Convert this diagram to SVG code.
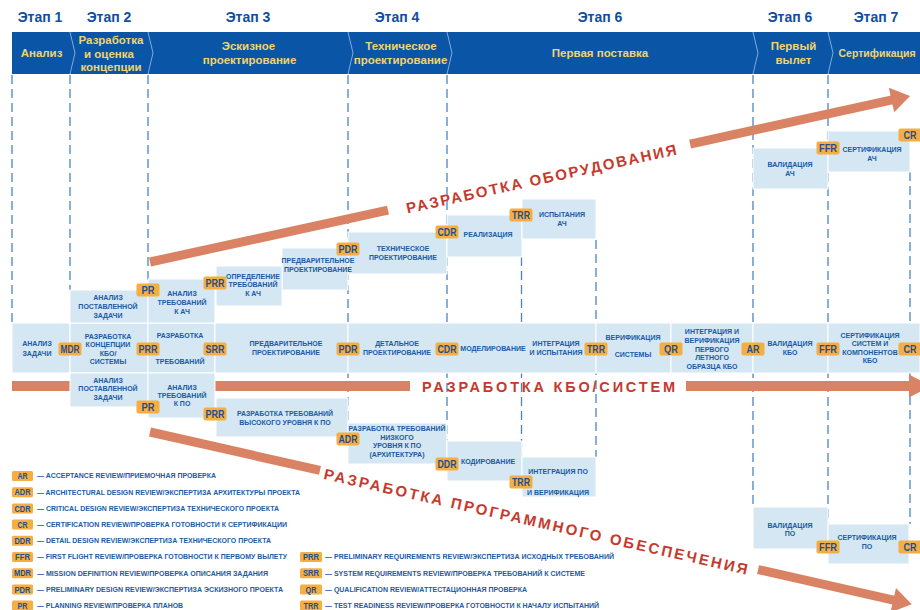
<svg xmlns="http://www.w3.org/2000/svg" width="920" height="610" viewBox="0 0 920 610">
<style>
.stage{font-family:"Liberation Sans",Arial,sans-serif;font-weight:bold;font-size:14px;fill:#124e9c;text-anchor:middle}
.band{font-family:"Liberation Sans",Arial,sans-serif;font-weight:bold;font-size:11.5px;fill:#f2d46e;text-anchor:middle}
.chev{fill:none;stroke:#7fa9dd;stroke-width:1}
.box{fill:#d4e7f3;stroke:#ffffff;stroke-width:1}
.lbl{font-family:"Liberation Sans",Arial,sans-serif;font-weight:bold;font-size:7px;fill:#1b5aa5;text-anchor:middle}
.bdg rect{fill:#f6ae41}
.bdg text{font-family:"Liberation Sans",Arial,sans-serif;font-weight:bold;font-size:10.5px;fill:#1d4f92;text-anchor:middle}
.guide{stroke:#4a85c7;stroke-width:1.3;stroke-dasharray:9 5;fill:none}
.flow{fill:#da8364}
.flowtxt{font-family:"Liberation Sans",Arial,sans-serif;font-weight:bold;font-size:15px;fill:#c63a2d;text-anchor:middle}
.leg{font-family:"Liberation Sans",Arial,sans-serif;font-weight:bold;font-size:6.8px;fill:#1d5aa3}
.lb rect{fill:#f6ae41}
.lb text{font-family:"Liberation Sans",Arial,sans-serif;font-weight:bold;font-size:8.5px;fill:#1d4f92;text-anchor:middle}
</style>

<g id="header">
  <text class="stage" x="40" y="22">Этап 1</text>
  <text class="stage" x="109" y="22">Этап 2</text>
  <text class="stage" x="248" y="22">Этап 3</text>
  <text class="stage" x="397" y="22">Этап 4</text>
  <text class="stage" x="600" y="22">Этап 6</text>
  <text class="stage" x="790" y="22">Этап 6</text>
  <text class="stage" x="876" y="22">Этап 7</text>
  <rect x="12" y="32" width="908" height="42" fill="#0a55a5"/>
  <polyline class="chev" points="70,32 75,53 70,74"/>
  <polyline class="chev" points="148,32 153,53 148,74"/>
  <polyline class="chev" points="348,32 353,53 348,74"/>
  <polyline class="chev" points="447,32 452,53 447,74"/>
  <polyline class="chev" points="753,32 758,53 753,74"/>
  <polyline class="chev" points="828,32 833,53 828,74"/>
  <text class="band" x="41.5" y="57">Анализ</text>
  <text class="band" x="111" y="44">Разработка</text>
  <text class="band" x="109" y="57.5">и оценка</text>
  <text class="band" x="111" y="70.5">концепции</text>
  <text class="band" x="248.5" y="50">Эскизное</text>
  <text class="band" x="249.5" y="64">проектирование</text>
  <text class="band" x="401" y="50">Техническое</text>
  <text class="band" x="400.5" y="64">проектирование</text>
  <text class="band" x="600" y="57">Первая поставка</text>
  <text class="band" x="793.5" y="50">Первый</text>
  <text class="band" x="793.5" y="64">вылет</text>
  <text class="band" x="877" y="57" style="font-size:10.5px">Сертификация</text>
</g>

<g id="connectors">
  <line class="guide" x1="12" y1="75" x2="12" y2="322"/>
  <line class="guide" x1="70" y1="75" x2="70" y2="290"/>
  <line class="guide" x1="148" y1="75" x2="148" y2="282"/>
  <line class="guide" x1="348" y1="75" x2="348" y2="423"/>
  <line class="guide" x1="447" y1="75" x2="447" y2="441"/>
  <line class="guide" x1="521.5" y1="257" x2="521.5" y2="457"/>
  <line class="guide" x1="596" y1="240" x2="596" y2="457"/>
  <line class="guide" x1="753" y1="75" x2="753" y2="507"/>
  <line class="guide" x1="828" y1="75" x2="828" y2="524"/>
  <line class="guide" x1="910" y1="172" x2="910" y2="524"/>

  <g id="flow-hw" transform="translate(150,262) rotate(-12.32)">
    <rect class="flow" x="0" y="-4.5" width="243.6" height="9"/>
    <rect class="flow" x="552.8" y="-4.5" width="208" height="9"/>
    <polygon class="flow" points="759,-12.5 778,0 759,12.5"/>
    <text class="flowtxt" x="400" y="7.5" textLength="276" lengthAdjust="spacing">РАЗРАБОТКА ОБОРУДОВАНИЯ</text>
  </g>
  <g id="flow-kbo">
    <rect class="flow" x="12" y="381" width="398" height="10"/>
    <rect class="flow" x="686" y="381" width="224" height="10"/>
    <polygon class="flow" points="909,374.5 931,386 909,397.5"/>
    <text class="flowtxt" x="548.5" y="392" style="font-size:14.5px" textLength="253" lengthAdjust="spacing">РАЗРАБОТКА КБО/СИСТЕМ</text>
  </g>
  <g id="flow-sw" transform="translate(150,432) rotate(12.75)">
    <rect class="flow" x="0" y="-4.5" width="174.3" height="9"/>
    <rect class="flow" x="623.4" y="-4.5" width="140" height="9"/>
    <polygon class="flow" points="762,-12.5 781,0 762,12.5"/>
    <text class="flowtxt" x="396" y="7.5" textLength="434" lengthAdjust="spacing">РАЗРАБОТКА ПРОГРАММНОГО ОБЕСПЕЧЕНИЯ</text>
  </g>
</g>

<g id="nodes-main">
  <g id="n-analiz-zadachi"><rect class="box" x="12" y="323" width="58" height="50"/>
    <text class="lbl" x="37" y="345.5">АНАЛИЗ</text><text class="lbl" x="37" y="355.5">ЗАДАЧИ</text></g>
  <g id="n-koncepcii"><rect class="box" x="70" y="323" width="78" height="50"/>
    <text class="lbl" x="108" y="338.5">РАЗРАБОТКА</text><text class="lbl" x="108" y="347">КОНЦЕПЦИИ</text><text class="lbl" x="108" y="355.5">КБО/</text><text class="lbl" x="108" y="364">СИСТЕМЫ</text></g>
  <g id="n-razr-treb"><rect class="box" x="148" y="323" width="67" height="50"/>
    <text class="lbl" x="180" y="337.5">РАЗРАБОТКА</text><text class="lbl" x="180" y="363.5">ТРЕБОВАНИЙ</text></g>
  <g id="n-predv"><rect class="box" x="215" y="323" width="133" height="50"/>
    <text class="lbl" x="286" y="345.5">ПРЕДВАРИТЕЛЬНОЕ</text><text class="lbl" x="286" y="354.5">ПРОЕКТИРОВАНИЕ</text></g>
  <g id="n-detal"><rect class="box" x="348" y="323" width="248" height="50"/>
    <text class="lbl" x="397" y="345.5">ДЕТАЛЬНОЕ</text><text class="lbl" x="397" y="354.5">ПРОЕКТИРОВАНИЕ</text>
    <text class="lbl" x="493" y="350.5">МОДЕЛИРОВАНИЕ</text>
    <text class="lbl" x="556" y="345.5">ИНТЕГРАЦИЯ</text><text class="lbl" x="556" y="354.5">И ИСПЫТАНИЯ</text></g>
  <g id="n-verif"><rect class="box" x="596" y="323" width="75" height="50"/>
    <text class="lbl" x="633" y="339.5">ВЕРИФИКАЦИЯ</text><text class="lbl" x="633" y="356.5">СИСТЕМЫ</text></g>
  <g id="n-integr-obr"><rect class="box" x="671" y="323" width="82" height="50"/>
    <text class="lbl" x="712" y="333.5">ИНТЕГРАЦИЯ И</text><text class="lbl" x="712" y="342.5">ВЕРИФИКАЦИЯ</text><text class="lbl" x="712" y="351.5">ПЕРВОГО</text><text class="lbl" x="712" y="360">ЛЕТНОГО</text><text class="lbl" x="712" y="368.5">ОБРАЗЦА КБО</text></g>
  <g id="n-valid-kbo"><rect class="box" x="753" y="323" width="75" height="50"/>
    <text class="lbl" x="790" y="345.5">ВАЛИДАЦИЯ</text><text class="lbl" x="790" y="354.5">КБО</text></g>
  <g id="n-sert-kbo"><rect class="box" x="828" y="323" width="92" height="50"/>
    <text class="lbl" x="870" y="337.5">СЕРТИФИКАЦИЯ</text><text class="lbl" x="870" y="346">СИСТЕМ И</text><text class="lbl" x="870" y="354.5">КОМПОНЕНТОВ</text><text class="lbl" x="870" y="363">КБО</text></g>
</g>

<g id="nodes-hw">
  <g id="n-hw-analiz"><rect class="box" x="70" y="290" width="78" height="33"/>
    <text class="lbl" x="108" y="299.5">АНАЛИЗ</text><text class="lbl" x="108" y="308.5">ПОСТАВЛЕННОЙ</text><text class="lbl" x="108" y="317.5">ЗАДАЧИ</text></g>
  <g id="n-hw-analiz-treb"><rect class="box" x="148" y="279" width="67" height="44"/>
    <text class="lbl" x="182" y="295.5">АНАЛИЗ</text><text class="lbl" x="182" y="304.5">ТРЕБОВАНИЙ</text><text class="lbl" x="182" y="313.5">К АЧ</text></g>
  <g id="n-hw-tech"><rect class="box" x="348" y="232" width="99" height="42"/>
    <text class="lbl" x="403" y="250.5">ТЕХНИЧЕСКОЕ</text><text class="lbl" x="403" y="259.5">ПРОЕКТИРОВАНИЕ</text></g>
  <g id="n-hw-predv"><rect class="box" x="282" y="248" width="66" height="42"/>
    <text class="lbl" x="318" y="262.5">ПРЕДВАРИТЕЛЬНОЕ</text><text class="lbl" x="318" y="271.5">ПРОЕКТИРОВАНИЕ</text></g>
  <g id="n-hw-opred"><rect class="box" x="216" y="266" width="66" height="40"/>
    <text class="lbl" x="253" y="278.5">ОПРЕДЕЛЕНИЕ</text><text class="lbl" x="253" y="287">ТРЕБОВАНИЙ</text><text class="lbl" x="253" y="295.5">К АЧ</text></g>
  <g id="n-hw-real"><rect class="box" x="447" y="215" width="75" height="42"/>
    <text class="lbl" x="488" y="236.5">РЕАЛИЗАЦИЯ</text></g>
  <g id="n-hw-isp"><rect class="box" x="522" y="199" width="74" height="40"/>
    <text class="lbl" x="562" y="216.5">ИСПЫТАНИЯ</text><text class="lbl" x="562" y="225.5">АЧ</text></g>
  <g id="n-hw-valid"><rect class="box" x="753" y="148" width="75" height="41"/>
    <text class="lbl" x="790" y="166.5">ВАЛИДАЦИЯ</text><text class="lbl" x="790" y="175.5">АЧ</text></g>
  <g id="n-hw-sert"><rect class="box" x="828" y="131" width="82" height="41"/>
    <text class="lbl" x="872" y="151.5">СЕРТИФИКАЦИЯ</text><text class="lbl" x="872" y="160.5">АЧ</text></g>
</g>

<g id="nodes-sw">
  <g id="n-sw-analiz"><rect class="box" x="70" y="373" width="78" height="34"/>
    <text class="lbl" x="108" y="382.5">АНАЛИЗ</text><text class="lbl" x="108" y="391">ПОСТАВЛЕННОЙ</text><text class="lbl" x="108" y="399.5">ЗАДАЧИ</text></g>
  <g id="n-sw-analiz-treb"><rect class="box" x="148" y="373" width="67" height="45"/>
    <text class="lbl" x="182" y="389.5">АНАЛИЗ</text><text class="lbl" x="182" y="397.5">ТРЕБОВАНИЙ</text><text class="lbl" x="182" y="405.5">К ПО</text></g>
  <g id="n-sw-high"><rect class="box" x="216" y="398" width="132" height="39"/>
    <text class="lbl" x="285" y="415.5" textLength="96" lengthAdjust="spacingAndGlyphs">РАЗРАБОТКА ТРЕБОВАНИЙ</text><text class="lbl" x="285" y="424.5">ВЫСОКОГО УРОВНЯ К ПО</text></g>
  <g id="n-sw-low"><rect class="box" x="348" y="423" width="99" height="41"/>
    <text class="lbl" x="397" y="430.5" textLength="97" lengthAdjust="spacingAndGlyphs">РАЗРАБОТКА ТРЕБОВАНИЙ</text><text class="lbl" x="397" y="439.5">НИЗКОГО</text><text class="lbl" x="397" y="448">УРОВНЯ К ПО</text><text class="lbl" x="397" y="456.5">(АРХИТЕКТУРА)</text></g>
  <g id="n-sw-kod"><rect class="box" x="447" y="441" width="75" height="40"/>
    <text class="lbl" x="488" y="463.5">КОДИРОВАНИЕ</text></g>
  <g id="n-sw-integr"><rect class="box" x="522" y="457" width="74" height="40"/>
    <text class="lbl" x="558" y="473.5">ИНТЕГРАЦИЯ ПО</text><text class="lbl" x="558" y="494.5">И ВЕРИФИКАЦИЯ</text></g>
  <g id="n-sw-valid"><rect class="box" x="753" y="507" width="75" height="42"/>
    <text class="lbl" x="790" y="527.5">ВАЛИДАЦИЯ</text><text class="lbl" x="790" y="536">ПО</text></g>
  <g id="n-sw-sert"><rect class="box" x="828" y="524" width="81" height="40"/>
    <text class="lbl" x="867" y="539.5">СЕРТИФИКАЦИЯ</text><text class="lbl" x="867" y="548.5">ПО</text></g>
</g>

<g id="badges">
  <g id="b-mdr" class="bdg"><rect x="58.5" y="342.5" width="23" height="13" rx="2"/><text x="70" y="352.8" textLength="19" lengthAdjust="spacingAndGlyphs">MDR</text></g>
  <g id="b-prr-m" class="bdg"><rect x="136.5" y="342.5" width="23" height="13" rx="2"/><text x="148" y="352.8" textLength="19" lengthAdjust="spacingAndGlyphs">PRR</text></g>
  <g id="b-srr" class="bdg"><rect x="203.5" y="342.5" width="23" height="13" rx="2"/><text x="215" y="352.8" textLength="19" lengthAdjust="spacingAndGlyphs">SRR</text></g>
  <g id="b-pdr-m" class="bdg"><rect x="336.5" y="342.5" width="23" height="13" rx="2"/><text x="348" y="352.8" textLength="19" lengthAdjust="spacingAndGlyphs">PDR</text></g>
  <g id="b-cdr-m" class="bdg"><rect x="435.5" y="342.5" width="23" height="13" rx="2"/><text x="447" y="352.8" textLength="19" lengthAdjust="spacingAndGlyphs">CDR</text></g>
  <g id="b-trr-m" class="bdg"><rect x="584.5" y="342.5" width="23" height="13" rx="2"/><text x="596" y="352.8" textLength="18" lengthAdjust="spacingAndGlyphs">TRR</text></g>
  <g id="b-qr" class="bdg"><rect x="659.5" y="342.5" width="23" height="13" rx="2"/><text x="671" y="352.8" textLength="14" lengthAdjust="spacingAndGlyphs">QR</text></g>
  <g id="b-ar" class="bdg"><rect x="741.5" y="342.5" width="23" height="13" rx="2"/><text x="753" y="352.8" textLength="13" lengthAdjust="spacingAndGlyphs">AR</text></g>
  <g id="b-ffr-m" class="bdg"><rect x="816.5" y="342.5" width="23" height="13" rx="2"/><text x="828" y="352.8" textLength="18" lengthAdjust="spacingAndGlyphs">FFR</text></g>
  <g id="b-cr-m" class="bdg"><rect x="898.5" y="342.5" width="23" height="13" rx="2"/><text x="910" y="352.8" textLength="13" lengthAdjust="spacingAndGlyphs">CR</text></g>

  <g id="b-pr-u" class="bdg"><rect x="136.5" y="283.5" width="23" height="13" rx="2"/><text x="148" y="293.8" textLength="13" lengthAdjust="spacingAndGlyphs">PR</text></g>
  <g id="b-prr-u" class="bdg"><rect x="203.5" y="276.5" width="23" height="13" rx="2"/><text x="215" y="286.8" textLength="19" lengthAdjust="spacingAndGlyphs">PRR</text></g>
  <g id="b-pdr-u" class="bdg"><rect x="336.5" y="242.5" width="23" height="13" rx="2"/><text x="348" y="252.8" textLength="19" lengthAdjust="spacingAndGlyphs">PDR</text></g>
  <g id="b-cdr-u" class="bdg"><rect x="435.5" y="225.5" width="23" height="13" rx="2"/><text x="447" y="235.8" textLength="19" lengthAdjust="spacingAndGlyphs">CDR</text></g>
  <g id="b-trr-u" class="bdg"><rect x="509.5" y="208.5" width="23" height="13" rx="2"/><text x="521" y="218.8" textLength="18" lengthAdjust="spacingAndGlyphs">TRR</text></g>
  <g id="b-ffr-u" class="bdg"><rect x="816.5" y="141.5" width="23" height="13" rx="2"/><text x="828" y="151.8" textLength="18" lengthAdjust="spacingAndGlyphs">FFR</text></g>
  <g id="b-cr-u" class="bdg"><rect x="898.5" y="128.5" width="23" height="13" rx="2"/><text x="910" y="138.8" textLength="13" lengthAdjust="spacingAndGlyphs">CR</text></g>

  <g id="b-pr-l" class="bdg"><rect x="136.5" y="400.5" width="23" height="13" rx="2"/><text x="148" y="410.8" textLength="13" lengthAdjust="spacingAndGlyphs">PR</text></g>
  <g id="b-prr-l" class="bdg"><rect x="203.5" y="407.5" width="23" height="13" rx="2"/><text x="215" y="417.8" textLength="19" lengthAdjust="spacingAndGlyphs">PRR</text></g>
  <g id="b-adr" class="bdg"><rect x="336.5" y="432.5" width="23" height="13" rx="2"/><text x="348" y="442.8" textLength="19" lengthAdjust="spacingAndGlyphs">ADR</text></g>
  <g id="b-ddr" class="bdg"><rect x="435.5" y="457.5" width="23" height="13" rx="2"/><text x="447" y="467.8" textLength="19" lengthAdjust="spacingAndGlyphs">DDR</text></g>
  <g id="b-trr-l" class="bdg"><rect x="509.5" y="475.5" width="23" height="13" rx="2"/><text x="521" y="485.8" textLength="18" lengthAdjust="spacingAndGlyphs">TRR</text></g>
  <g id="b-ffr-l" class="bdg"><rect x="816.5" y="540.5" width="23" height="13" rx="2"/><text x="828" y="550.8" textLength="18" lengthAdjust="spacingAndGlyphs">FFR</text></g>
  <g id="b-cr-l" class="bdg"><rect x="898.5" y="540.5" width="23" height="13" rx="2"/><text x="910" y="550.8" textLength="13" lengthAdjust="spacingAndGlyphs">CR</text></g>
</g>

<g id="legend">
  <g class="lb"><rect x="12" y="471" width="21" height="10" rx="1.5"/><text x="22.5" y="479.2" textLength="10" lengthAdjust="spacingAndGlyphs">AR</text></g>
  <text class="leg" x="37" y="478.4" textLength="179" lengthAdjust="spacingAndGlyphs">— ACCEPTANCE REVIEW/ПРИЕМОЧНАЯ ПРОВЕРКА</text>
  <g class="lb"><rect x="12" y="487.2" width="21" height="10" rx="1.5"/><text x="22.5" y="495.4" textLength="16" lengthAdjust="spacingAndGlyphs">ADR</text></g>
  <text class="leg" x="37" y="494.6" textLength="263" lengthAdjust="spacingAndGlyphs">— ARCHITECTURAL DESIGN REVIEW/ЭКСПЕРТИЗА АРХИТЕКТУРЫ ПРОЕКТА</text>
  <g class="lb"><rect x="12" y="503.4" width="21" height="10" rx="1.5"/><text x="22.5" y="511.6" textLength="16" lengthAdjust="spacingAndGlyphs">CDR</text></g>
  <text class="leg" x="37" y="510.8" textLength="242" lengthAdjust="spacingAndGlyphs">— CRITICAL DESIGN REVIEW/ЭКСПЕРТИЗА ТЕХНИЧЕСКОГО ПРОЕКТА</text>
  <g class="lb"><rect x="12" y="519.6" width="21" height="10" rx="1.5"/><text x="22.5" y="527.8" textLength="10" lengthAdjust="spacingAndGlyphs">CR</text></g>
  <text class="leg" x="37" y="527" textLength="250" lengthAdjust="spacingAndGlyphs">— CERTIFICATION REVIEW/ПРОВЕРКА ГОТОВНОСТИ К СЕРТИФИКАЦИИ</text>
  <g class="lb"><rect x="12" y="535.8" width="21" height="10" rx="1.5"/><text x="22.5" y="544" textLength="16" lengthAdjust="spacingAndGlyphs">DDR</text></g>
  <text class="leg" x="37" y="543.2" textLength="234" lengthAdjust="spacingAndGlyphs">— DETAIL DESIGN REVIEW/ЭКСПЕРТИЗА ТЕХНИЧЕСКОГО ПРОЕКТА</text>
  <g class="lb"><rect x="12" y="552" width="21" height="10" rx="1.5"/><text x="22.5" y="560.2" textLength="15" lengthAdjust="spacingAndGlyphs">FFR</text></g>
  <text class="leg" x="37" y="559.4" textLength="250" lengthAdjust="spacingAndGlyphs">— FIRST FLIGHT REVIEW/ПРОВЕРКА ГОТОВНОСТИ К ПЕРВОМУ ВЫЛЕТУ</text>
  <g class="lb"><rect x="12" y="568.2" width="21" height="10" rx="1.5"/><text x="22.5" y="576.4" textLength="17" lengthAdjust="spacingAndGlyphs">MDR</text></g>
  <text class="leg" x="37" y="575.6" textLength="231" lengthAdjust="spacingAndGlyphs">— MISSION DEFINITION REVIEW/ПРОВЕРКА ОПИСАНИЯ ЗАДАНИЯ</text>
  <g class="lb"><rect x="12" y="584.4" width="21" height="10" rx="1.5"/><text x="22.5" y="592.6" textLength="16" lengthAdjust="spacingAndGlyphs">PDR</text></g>
  <text class="leg" x="37" y="591.8" textLength="246" lengthAdjust="spacingAndGlyphs">— PRELIMINARY DESIGN REVIEW/ЭКСПЕРТИЗА ЭСКИЗНОГО ПРОЕКТА</text>
  <g class="lb"><rect x="12" y="600.6" width="21" height="10" rx="1.5"/><text x="22.5" y="608.8" textLength="10" lengthAdjust="spacingAndGlyphs">PR</text></g>
  <text class="leg" x="37" y="608" textLength="146" lengthAdjust="spacingAndGlyphs">— PLANNING REVIEW/ПРОВЕРКА ПЛАНОВ</text>

  <g class="lb"><rect x="300" y="552" width="22" height="10" rx="1.5"/><text x="311" y="560.2" textLength="16" lengthAdjust="spacingAndGlyphs">PRR</text></g>
  <text class="leg" x="325" y="559.4" textLength="289" lengthAdjust="spacingAndGlyphs">— PRELIMINARY REQUIREMENTS REVIEW/ЭКСПЕРТИЗА ИСХОДНЫХ ТРЕБОВАНИЙ</text>
  <g class="lb"><rect x="300" y="568.2" width="22" height="10" rx="1.5"/><text x="311" y="576.4" textLength="16" lengthAdjust="spacingAndGlyphs">SRR</text></g>
  <text class="leg" x="325" y="575.6" textLength="260" lengthAdjust="spacingAndGlyphs">— SYSTEM REQUIREMENTS REVIEW/ПРОВЕРКА ТРЕБОВАНИЙ К СИСТЕМЕ</text>
  <g class="lb"><rect x="300" y="584.4" width="22" height="10" rx="1.5"/><text x="311" y="592.6" textLength="11" lengthAdjust="spacingAndGlyphs">QR</text></g>
  <text class="leg" x="325" y="591.8" textLength="202" lengthAdjust="spacingAndGlyphs">— QUALIFICATION REVIEW/АТТЕСТАЦИОННАЯ ПРОВЕРКА</text>
  <g class="lb"><rect x="300" y="600.6" width="22" height="10" rx="1.5"/><text x="311" y="608.8" textLength="15" lengthAdjust="spacingAndGlyphs">TRR</text></g>
  <text class="leg" x="325" y="608" textLength="274" lengthAdjust="spacingAndGlyphs">— TEST READINESS REVIEW/ПРОВЕРКА ГОТОВНОСТИ К НАЧАЛУ ИСПЫТАНИЙ</text>
</g>
</svg>
